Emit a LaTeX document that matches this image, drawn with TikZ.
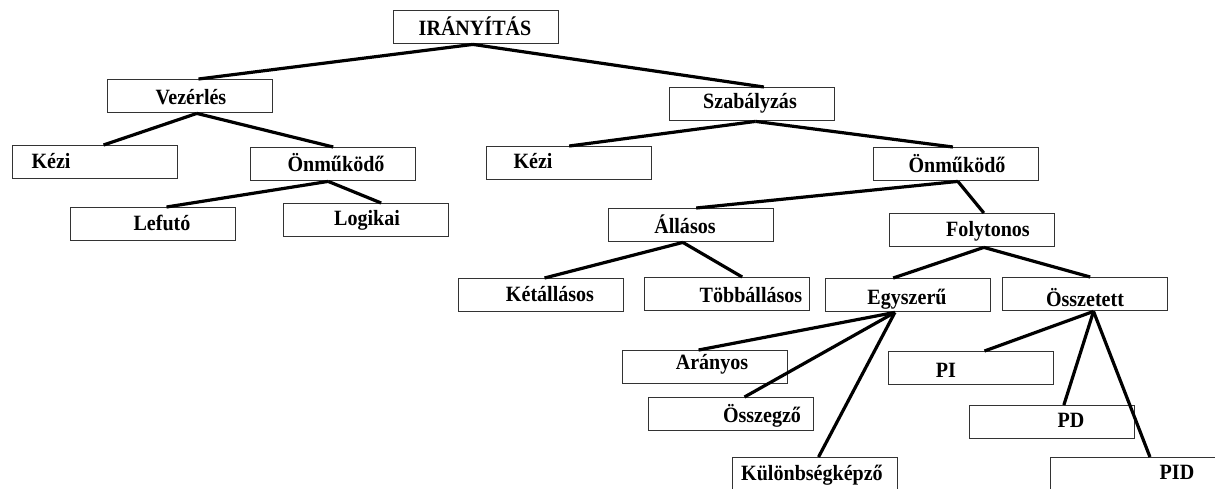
\documentclass[tikz,border=0pt]{standalone}
\usepackage{fontspec}
\setmainfont{Liberation Serif}
\newfontfamily\lblfont[FakeStretch=0.92]{Liberation Serif}
\usetikzlibrary{calc}
\tikzset{
  box/.style={draw=black!80, line width=0.7pt, rectangle, anchor=north west, inner sep=0pt, minimum height=16.5pt, minimum width=82.5pt},
  lbl/.style={anchor=base, inner sep=0pt, font=\lblfont\fontsize{10.9}{12}\selectfont\bfseries},
  conn/.style={line width=1.6pt, black},
}
\begin{document}
\begin{tikzpicture}[x=0.5pt,y=-0.5pt]
\useasboundingbox (0,0) rectangle (1215,488);
% boxes
\node[box] (root) at (393,10) {};
\node[box] (vez) at (107,79) {};
\node[box] (szab) at (669,87) {};
\node[box] (kezi1) at (12,145) {};
\node[box] (onm1) at (250,147) {};
\node[box] (lef) at (70,207) {};
\node[box] (log) at (283,203) {};
\node[box] (kezi2) at (486,146) {};
\node[box] (onm2) at (873,147) {};
\node[box] (all) at (608,208) {};
\node[box] (foly) at (889,213) {};
\node[box] (ket) at (458,278) {};
\node[box] (tobb) at (644,277) {};
\node[box] (egy) at (825,278) {};
\node[box] (ossz) at (1002,277) {};
\node[box] (ar) at (622,350) {};
\node[box] (osszeg) at (648,397) {};
\node[box] (pi) at (888,351) {};
\node[box] (pd) at (969,405) {};
\node[box] (kul) at (732,457) {};
\node[box, minimum width=84pt] (pid) at (1050,457) {};
% labels
\node[lbl] (t-root) at (475,35) {IRÁNYÍTÁS};
\node[lbl] (t-vez) at (191,104) {Vezérlés};
\node[lbl] (t-szab) at (750,108) {Szabályzás};
\node[lbl] (t-kezi1) at (51,168) {Kézi};
\node[lbl] (t-onm1) at (336,171) {Önműködő};
\node[lbl] (t-lef) at (162,230) {Lefutó};
\node[lbl] (t-log) at (367,225) {Logikai};
\node[lbl] (t-kezi2) at (533,168) {Kézi};
\node[lbl] (t-onm2) at (957,172) {Önműködő};
\node[lbl] (t-all) at (685,233) {Állásos};
\node[lbl] (t-foly) at (988,236) {Folytonos};
\node[lbl] (t-ket) at (550,301) {Kétállásos};
\node[lbl] (t-tobb) at (751,302) {Többállásos};
\node[lbl] (t-egy) at (907,304) {Egyszerű};
\node[lbl] (t-ossz) at (1085,306) {Összetett};
\node[lbl] (t-ar) at (712,369) {Arányos};
\node[lbl] (t-osszeg) at (762,422) {Összegző};
\node[lbl] (t-pi) at (946,377) {PI};
\node[lbl] (t-pd) at (1071,427) {PD};
\node[lbl] (t-kul) at (812,480) {Különbségképző};
\node[lbl] (t-pid) at (1177,479) {PID};
% connectors
\draw[conn] ($(root.south west)!0.48!(root.south east)$) -- ($(vez.north west)!0.55!(vez.north east)$);
\draw[conn] ($(root.south west)!0.48!(root.south east)$) -- ($(szab.north west)!0.57!(szab.north east)$);
\draw[conn] ($(vez.south west)!0.54!(vez.south east)$) -- ($(kezi1.north west)!0.55!(kezi1.north east)$);
\draw[conn] ($(vez.south west)!0.54!(vez.south east)$) -- ($(onm1.north west)!0.50!(onm1.north east)$);
\draw[conn] ($(onm1.south west)!0.47!(onm1.south east)$) -- ($(lef.north west)!0.58!(lef.north east)$);
\draw[conn] ($(onm1.south west)!0.47!(onm1.south east)$) -- ($(log.north west)!0.59!(log.north east)$);
\draw[conn] ($(szab.south west)!0.52!(szab.south east)$) -- ($(kezi2.north west)!0.50!(kezi2.north east)$);
\draw[conn] ($(szab.south west)!0.52!(szab.south east)$) -- ($(onm2.north west)!0.48!(onm2.north east)$);
\draw[conn] ($(onm2.south west)!0.51!(onm2.south east)$) -- ($(all.north west)!0.53!(all.north east)$);
\draw[conn] ($(onm2.south west)!0.51!(onm2.south east)$) -- ($(foly.north west)!0.57!(foly.north east)$);
\draw[conn] ($(all.south west)!0.45!(all.south east)$) -- ($(ket.north west)!0.52!(ket.north east)$);
\draw[conn] ($(all.south west)!0.45!(all.south east)$) -- ($(tobb.north west)!0.59!(tobb.north east)$);
\draw[conn] ($(foly.south west)!0.57!(foly.south east)$) -- ($(egy.north west)!0.41!(egy.north east)$);
\draw[conn] ($(foly.south west)!0.57!(foly.south east)$) -- ($(ossz.north west)!0.53!(ossz.north east)$);
\draw[conn] ($(egy.south west)!0.42!(egy.south east)$) -- ($(ar.north west)!0.46!(ar.north east)$);
\draw[conn] ($(egy.south west)!0.42!(egy.south east)$) -- ($(osszeg.north west)!0.58!(osszeg.north east)$);
\draw[conn] ($(egy.south west)!0.42!(egy.south east)$) -- ($(kul.north west)!0.52!(kul.north east)$);
\draw[conn] ($(ossz.south west)!0.55!(ossz.south east)$) -- ($(pi.north west)!0.58!(pi.north east)$);
\draw[conn] ($(ossz.south west)!0.55!(ossz.south east)$) -- ($(pd.north west)!0.57!(pd.north east)$);
\draw[conn] ($(ossz.south west)!0.55!(ossz.south east)$) -- ($(pid.north west)!0.59!(pid.north east)$);
\end{tikzpicture}
\end{document}
